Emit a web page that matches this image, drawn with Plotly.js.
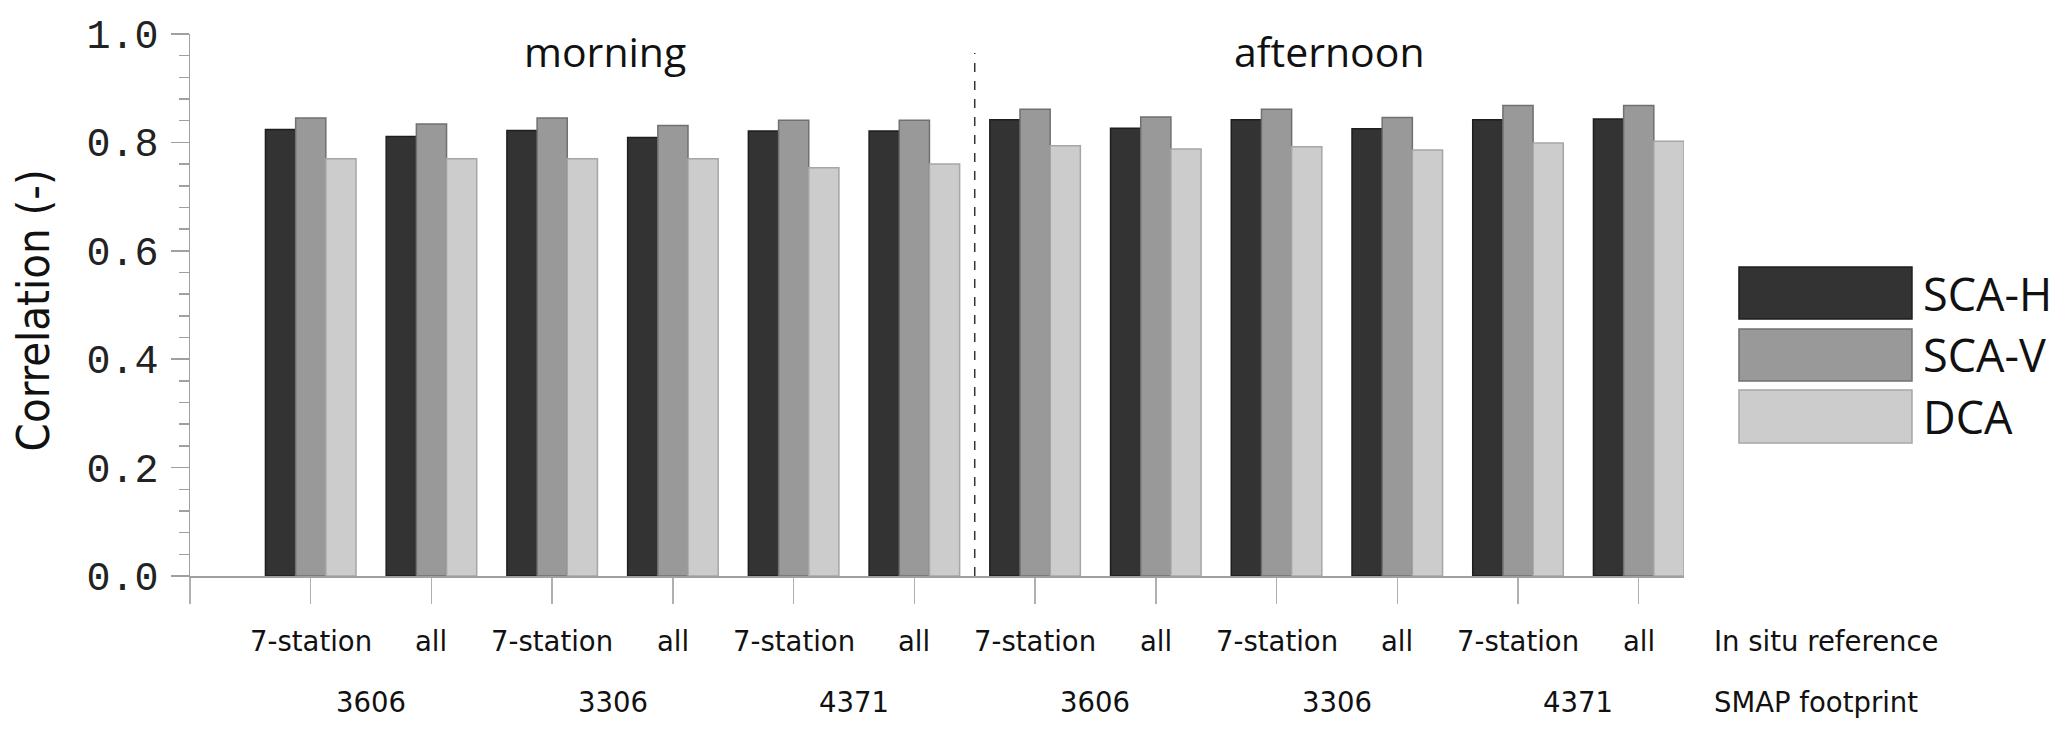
<!DOCTYPE html>
<html>
<head>
<meta charset="utf-8">
<script src="https://cdn.plot.ly/plotly-3.0.1.min.js"></script>
<style>html,body{margin:0;padding:0;background:#fff;}#chart{width:2067px;height:735px;}</style>
</head>
<body>
<div id="chart"></div>
<script>
// ---- data ----
var categories = ['7-station','all','7-station','all','7-station','all','7-station','all','7-station','all','7-station','all'];
var footprints = ['3606','3306','4371','3606','3306','4371'];
var periods = ['morning','afternoon'];
var seriesNames = ['SCA-H','SCA-V','DCA'];
var scaH = [0.824,0.811,0.822,0.809,0.821,0.821,0.842,0.826,0.842,0.825,0.842,0.843];
var scaV = [0.845,0.834,0.845,0.831,0.841,0.841,0.861,0.847,0.861,0.846,0.868,0.868];
var dca  = [0.770,0.770,0.770,0.770,0.753,0.760,0.794,0.788,0.792,0.786,0.799,0.802];
var rowLabels = ['In situ reference','SMAP footprint'];

// ---- styles ----
var fills = ['#333333','#999999','#cccccc'];
var edges = ['#1e1e1e','#707070','#a6a6a6'];
var labelFont = 'DejaVu Sans, Verdana, sans-serif';
var titleFont = 'DejaVu Sans Condensed, Liberation Sans Narrow, DejaVu Sans, sans-serif';
var sansFont = 'Open Sans, Noto Sans, sans-serif';

var xs = categories.map(function(_, i){ return i; });
var vals = [scaH, scaV, dca];
var traces = vals.map(function(v, k){
  return {type:'bar', x:xs, y:v, name:seriesNames[k],
    marker:{color:fills[k], line:{color:edges[k], width:1.5}},
    showlegend:false, hoverinfo:'skip'};
});

// tick values include an empty slot at the left edge
var tickvals = [-1].concat(xs);
var ticktext = [''].concat(categories.map(function(){ return ''; }));

var annotations = [];
// in-situ labels (row 1)
categories.forEach(function(c, i){
  annotations.push({xref:'x', yref:'paper', x:i, y:-0.1203, text:c, showarrow:false,
    xanchor:'center', yanchor:'middle', font:{family:labelFont, size:27.5, color:'#111'}});
});
// footprint labels (row 2), centered between pairs
footprints.forEach(function(f, j){
  annotations.push({xref:'x', yref:'paper', x:2*j+0.5, y:-0.2328, text:f, showarrow:false,
    xanchor:'center', yanchor:'middle', font:{family:labelFont, size:27.5, color:'#111'}});
});
// row names
annotations.push({xref:'paper', yref:'paper', x:1.0187, y:-0.1203, text:rowLabels[0], showarrow:false,
  xanchor:'left', yanchor:'middle', font:{family:labelFont, size:27.5, color:'#111'}});
annotations.push({xref:'paper', yref:'paper', x:1.0187, y:-0.2328, text:rowLabels[1], showarrow:false,
  xanchor:'left', yanchor:'middle', font:{family:labelFont, size:27.5, color:'#111'}});
// period labels
annotations.push({xref:'x', yref:'paper', x:2.44, y:0.968, text:periods[0], showarrow:false,
  xanchor:'center', yanchor:'middle', font:{family:sansFont, size:41, color:'#111'}});
annotations.push({xref:'x', yref:'paper', x:8.44, y:0.968, text:periods[1], showarrow:false,
  xanchor:'center', yanchor:'middle', font:{family:sansFont, size:41, color:'#111'}});
// y title
annotations.push({xref:'paper', yref:'paper', x:-0.1051, y:0.490, text:'Correlation (-)', showarrow:false,
  textangle:-90, xanchor:'center', yanchor:'middle', font:{family:titleFont, size:45, color:'#111', weight:500}});

// legend (drawn)
var legY = [[0.570,0.474],[0.4557,0.3598],[0.3432,0.2454]];
var shapes = [];
seriesNames.forEach(function(n, k){
  shapes.push({type:'rect', xref:'paper', yref:'paper', x0:1.0368, x1:1.1526, y0:legY[k][1], y1:legY[k][0],
    fillcolor:fills[k], line:{color:edges[k], width:1.5}});
  annotations.push({xref:'paper', yref:'paper', x:1.1585, y:(legY[k][0]+legY[k][1])/2, text:n, showarrow:false,
    xanchor:'left', yanchor:'middle', font:{family:sansFont, size:45, color:'#111'}});
});
// morning/afternoon divider
shapes.push({type:'line', xref:'x', yref:'paper', x0:5.5, x1:5.5, y0:0, y1:0.965,
  line:{color:'#333', width:1.5, dash:'dash'}});

var layout = {
  width:2067, height:735,
  margin:{l:190, r:383, t:34, b:159, pad:0},
  paper_bgcolor:'#fff', plot_bgcolor:'#fff',
  font:{family:sansFont, color:'#111'},
  barmode:'group', bargap:0.25, bargroupgap:0,
  xaxis:{range:[-1, 11.375], tickmode:'array', tickvals:tickvals, ticktext:ticktext,
    showgrid:false, zeroline:false, showline:true, linecolor:'#a0a0a0', linewidth:1.5,
    ticks:'outside', ticklen:26, tickwidth:1.5, tickcolor:'#b0b0b0', fixedrange:true},
  yaxis:{range:[0,1], dtick:0.2, tickformat:'.1f', showgrid:false, zeroline:false,
    showline:true, linecolor:'#a0a0a0', linewidth:1.5,
    ticks:'outside', ticklen:18, tickwidth:1.5, tickcolor:'#a0a0a0',
    minor:{dtick:0.04, ticks:'outside', ticklen:10, tickwidth:1.5, tickcolor:'#a0a0a0'},
    tickfont:{family:'Liberation Mono, Courier New, monospace', size:40, color:'#222'},
    ticklabelstandoff:4, fixedrange:true},
  shapes:shapes,
  annotations:annotations
};

Plotly.newPlot('chart', traces, layout, {displayModeBar:false, staticPlot:true});
</script>
</body>
</html>
